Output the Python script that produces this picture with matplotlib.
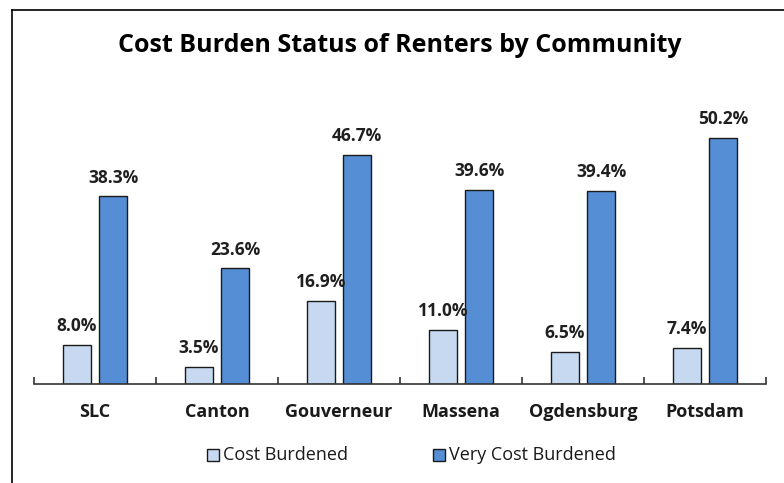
import matplotlib
matplotlib.use("Agg")
import matplotlib.pyplot as plt
import numpy as np
from matplotlib.patches import Rectangle
from matplotlib.lines import Line2D

categories = ["SLC", "Canton", "Gouverneur", "Massena", "Ogdensburg", "Potsdam"]
cost_burdened = [8.0, 3.5, 16.9, 11.0, 6.5, 7.4]
very_cost_burdened = [38.3, 23.6, 46.7, 39.6, 39.4, 50.2]
series_names = ["Cost Burdened", "Very Cost Burdened"]
title = "Cost Burden Status of Renters by Community"

W, H = 784, 483
fig = plt.figure(figsize=(W / 100, H / 100), dpi=100)
fig.patch.set_facecolor("white")

# outer frame (left and top lines)
fig.add_artist(Line2D([12 / W, 12 / W], [0, 1 - 10 / H], color="black", lw=1.2))
fig.add_artist(Line2D([12 / W, 1], [1 - 10 / H, 1 - 10 / H], color="black", lw=1.2))

ax_l, ax_r = 34 / W, 766 / W
ax_b = (H - 384) / H
ymax = 60
ax_t = (H - (384 - ymax * 4.9)) / H
ax = fig.add_axes([ax_l, ax_b, ax_r - ax_l, ax_t - ax_b])

x = np.arange(len(categories))
bw = 0.23
gap = 0.066
c_light = "#C6D9F1"
c_dark = "#558ED5"
edge = "#1a1a1a"

b1 = ax.bar(x - (bw + gap) / 2, cost_burdened, bw, color=c_light, edgecolor=edge, lw=1.0)
b2 = ax.bar(x + (bw + gap) / 2, very_cost_burdened, bw, color=c_dark, edgecolor=edge, lw=1.0)

lab_kw = dict(fontsize=12.5, fontweight="bold", color="#1f1f1f", ha="center", va="bottom",
              family="Open Sans")
for bars, vals in ((b1, cost_burdened), (b2, very_cost_burdened)):
    for r, v in zip(bars, vals):
        ax.annotate(f"{v:.1f}%", (r.get_x() + r.get_width() / 2, v), xytext=(0, 7),
                    textcoords="offset points", **lab_kw)

ax.set_xlim(-0.5, len(categories) - 0.5)
ax.set_ylim(0, ymax)
for s in ("top", "right", "left"):
    ax.spines[s].set_visible(False)
ax.spines["bottom"].set_color("#333333")
ax.spines["bottom"].set_linewidth(1.2)
ax.set_yticks([])
ax.set_xticks(np.arange(len(categories) + 1) - 0.5, minor=False)
ax.set_xticklabels([])
ax.tick_params(axis="x", direction="in", length=5, width=1.2, color="#333333")
for i, c in enumerate(categories):
    ax.text(i, -28 / 4.9, c, ha="center", va="center", fontsize=13, fontweight="bold",
            color="#1a1a1a", family="Open Sans")

fig.text(400 / W, 1 - 46 / H, title, ha="center", va="center", fontsize=18,
         fontweight="bold", color="black", family="Open Sans")

# legend
leg_y = 1 - 455 / H
for lx, name, col in ((207, series_names[0], c_light), (433, series_names[1], c_dark)):
    fig.add_artist(Rectangle((lx / W, leg_y - 6 / H), 12 / W, 12 / H, facecolor=col,
                             edgecolor=edge, lw=1.0, transform=fig.transFigure))
    fig.text((lx + 16) / W, leg_y, name, ha="left", va="center", fontsize=13,
             color="#1a1a1a", family="Open Sans")

fig.savefig("out.png", dpi=100, facecolor="white")
